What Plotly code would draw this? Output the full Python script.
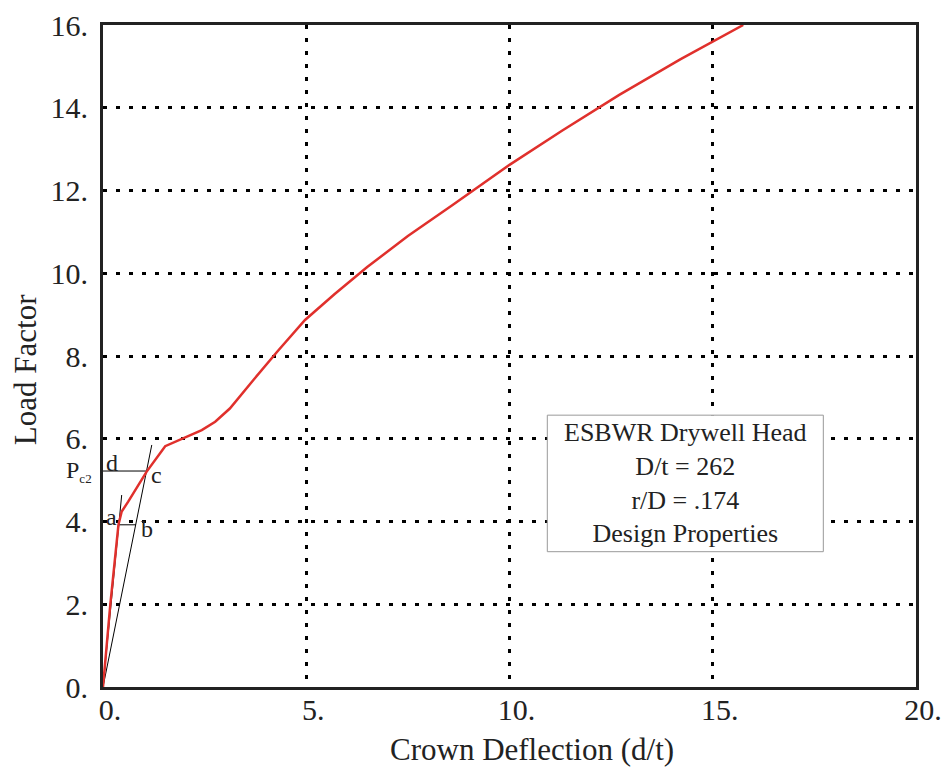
import plotly.graph_objects as go

# Load-deflection curve
crown_deflection = [0, 0.18, 0.38, 0.46, 0.62, 1.07, 1.53, 1.98, 2.43, 2.76, 3.12, 3.70,
                    4.3, 4.97, 5.7, 6.5, 7.5, 8.6, 10.0, 11.3, 12.7, 14.2, 15.75]
load_factor = [0, 2.0, 3.92, 4.24, 4.48, 5.2, 5.82, 6.01, 6.21, 6.41, 6.73, 7.42,
               8.12, 8.87, 9.5, 10.15, 10.9, 11.65, 12.62, 13.45, 14.31, 15.17, 16.0]

# Construction lines
steep_line_x = [0, 0.46]
steep_line_y = [0, 4.64]
shallow_line_x = [0, 1.2]
shallow_line_y = [0, 5.85]
dc_line_x = [0, 1.07]
dc_line_y = [5.22, 5.22]
ab_line_x = [0.38, 0.81]
ab_line_y = [3.92, 3.92]

# Point labels
point_labels = ["d", "c", "a", "b"]
point_label_x = [0.21, 1.32, 0.21, 1.07]
point_label_y = [5.42, 5.12, 4.1, 3.82]

x_tickvals = [0, 5, 10, 15, 20]
x_ticktext = ["0.", "5.", "10.", "15.", "20."]
y_tickvals = [0, 2, 4, 6, 8, 10, 12, 14, 16]
y_ticktext = ["0.", "2.", "4.", "6.", "8.", "10.", "12.", "14.", "16."]

box_lines = ["ESBWR Drywell Head", "D/t = 262", "r/D = .174", "Design Properties"]

FONT = "Liberation Serif"
TXT = "#222"

fig = go.Figure()
for lx, ly in [(steep_line_x, steep_line_y), (shallow_line_x, shallow_line_y),
               (dc_line_x, dc_line_y), (ab_line_x, ab_line_y)]:
    fig.add_trace(go.Scatter(x=lx, y=ly, mode="lines",
                             line=dict(color="black", width=1), hoverinfo="skip"))
fig.add_trace(go.Scatter(x=crown_deflection, y=load_factor, mode="lines",
                         line=dict(color="#e0302c", width=2.5)))

for t, px, py in zip(point_labels, point_label_x, point_label_y):
    fig.add_annotation(x=px, y=py, text=t, showarrow=False,
                       font=dict(family=FONT, size=24, color=TXT))
fig.add_annotation(x=-0.011, xref="paper", y=5.2, yref="y",
                   text="P<sub><span style='font-size:13px'>c2</span></sub>",
                   xanchor="right", showarrow=False,
                   font=dict(family=FONT, size=24, color=TXT))

# Text box
fig.add_shape(type="rect", x0=10.93, x1=17.72, y0=3.27, y1=6.57,
              fillcolor="white", line=dict(color="#999999", width=1), layer="above")
fig.add_annotation(x=(10.93 + 17.72) / 2, y=(3.27 + 6.57) / 2,
                   text="<br>".join(box_lines), showarrow=False,
                   font=dict(family=FONT, size=26, color=TXT), align="center")

# Axis titles
fig.add_annotation(x=0.528, y=-0.095, xref="paper", yref="paper",
                   text="Crown Deflection (d/t)", showarrow=False,
                   xanchor="center", yanchor="middle",
                   font=dict(family=FONT, size=31, color=TXT))
fig.add_annotation(x=-0.096, y=0.48, xref="paper", yref="paper",
                   text="Load Factor", showarrow=False, textangle=-90,
                   xanchor="center", yanchor="middle",
                   font=dict(family=FONT, size=31, color=TXT))

grid_common = dict(showgrid=True, gridcolor="black", gridwidth=3, griddash="4px,9px",
                   showline=True, linecolor="#222", linewidth=3, mirror=True,
                   zeroline=False, ticks="", automargin=False,
                   tickfont=dict(family=FONT, size=30, color=TXT))

fig.update_xaxes(range=[0, 20], tickvals=x_tickvals, ticktext=x_ticktext,
                 ticklabelshift=7, ticklabelstandoff=-6, **grid_common)
fig.update_yaxes(range=[0, 16], tickvals=y_tickvals, ticktext=y_ticktext,
                 ticklabelstandoff=6, **grid_common)

fig.update_layout(width=945, height=772, showlegend=False,
                  plot_bgcolor="white", paper_bgcolor="white",
                  margin=dict(l=103, r=29, t=25, b=85))

fig.write_html("out.html", config={"displayModeBar": False},
               post_script="document.body.style.margin='0';document.body.style.overflow='hidden';")
